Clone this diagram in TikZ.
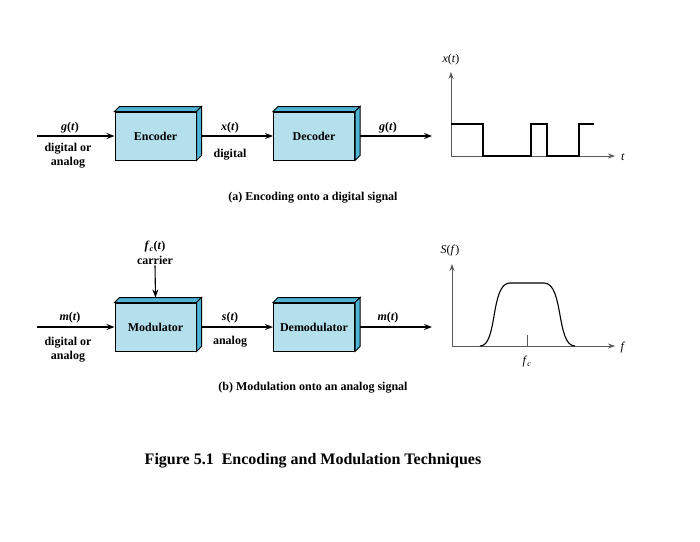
\documentclass[tikz,border=0pt]{standalone}
\usepackage{fontspec}
\setmainfont{Liberation Serif}
\usetikzlibrary{arrows.meta, calc, positioning}
\definecolor{boxfront}{RGB}{180,224,237}
\definecolor{boxside}{RGB}{78,180,214}
\definecolor{axisgray}{RGB}{90,90,90}
\tikzset{
  >={Stealth[length=8pt,width=6pt]},
  block/.style={draw, line width=1pt, fill=boxfront, minimum width=81pt, minimum height=48pt, inner sep=0pt, font=\fontsize{12}{14}\selectfont\bfseries},
  face/.style={draw, line width=1pt, fill=boxside},
  lbl/.style={inner sep=1pt, align=center, font=\fontsize{12}{14}\selectfont\bfseries},
  plbl/.style={inner sep=1pt, font=\fontsize{12}{14}\selectfont},
  wire/.style={line width=1.1pt},
  axis/.style={line width=0.7pt, axisgray, {Stealth[length=7pt,width=5pt]}-{Stealth[length=7pt,width=5pt]}},
}

\begin{document}
\begin{tikzpicture}[x=1pt, y=-1pt]
\useasboundingbox (0,0) rectangle (700,541);

% (a) encoding
\node[block] (enc) at (155.5,136) {Encoder};
\node[block] (dec) at (314,136) {Decoder};
\coordinate (in1) at (37,136);
\coordinate (out1) at (432,136);

% (b) modulation
\node[block] (mod) at (155.5,327) {Modulator};
\node[block] (demod) at (314,327) {Demodulator};
\coordinate (in2) at (37,327);
\coordinate (out2) at (432,327);

\foreach \b in {enc,dec,mod,demod}{
  \draw[face] (\b.north west) -- ++(5,-5) -- ($(\b.north east)+(5,-5)$) -- (\b.north east) -- cycle;
  \draw[face] (\b.north east) -- ++(5,-5) -- ($(\b.south east)+(5,-5)$) -- (\b.south east) -- cycle;
}

\node[lbl] (gin) at (70,128) {\textit{g}(\textit{t})};
\node[lbl] (gintype) at (68,156) {digital or\\analog};
\node[lbl] (xmid) at (230,128) {\textit{x}(\textit{t})};
\node[lbl] (xtype) at (230,155) {digital};
\node[lbl] (gout) at (388,128) {\textit{g}(\textit{t})};
\node[lbl] (capa) at (313,198) {(a) Encoding onto a digital signal};

\node[lbl] (fc) at (155,247) {\textit{f}\textsubscript{\textit{c}}(\textit{t})};
\node[lbl] (carrier) at (155,260) {carrier};
\node[lbl] (min) at (70,318) {\textit{m}(\textit{t})};
\node[lbl] (mintype) at (68,350) {digital or\\analog};
\node[lbl] (smid) at (230,318) {\textit{s}(\textit{t})};
\node[lbl] (stype) at (230,342) {analog};
\node[lbl] (mout) at (388,318) {\textit{m}(\textit{t})};
\node[lbl] (capb) at (313,388) {(b) Modulation onto an analog signal};

\draw[wire]
(in1) edge[->] (enc.west)
([xshift=5pt]enc.east) edge[->] (dec.west)
([xshift=5pt]dec.east) edge[->] (out1)
(in2) edge[->] (mod.west)
([xshift=5pt]mod.east) edge[->] (demod.west)
([xshift=5pt]demod.east) edge[->] (out2)
(carrier.south) edge[->] ([yshift=5pt]mod.north);

% x(t) plot
\coordinate (oa) at (451,156);
\coordinate (ya) at (451,72);
\coordinate (xa) at (615,156);
\draw[axis] (ya) -- (oa) -- (xa);
\node[plbl] (xlab) at (451,60) {\textit{x}(\textit{t})};
\node[plbl] (tlab) at (623,157) {\textit{t}};
\draw[wire] (451,124) -- (483,124) -- (483,156) -- (531,156) -- (531,124) -- (547,124)
  -- (547,156) -- (579,156) -- (579,124) -- (594,124);

% S(f) plot
\coordinate (ob) at (452,346);
\coordinate (yb) at (452,264);
\coordinate (xb) at (615,346);
\draw[axis] (yb) -- (ob) -- (xb);
\node[plbl] (slab) at (450,251) {\textit{S}(\textit{f})};
\node[plbl] (flab) at (623,348) {\textit{f}};
\draw[wire] (480,346) .. controls (498,346) and (490,283) .. (510,283) -- (544,283)
  .. controls (564,283) and (556,346) .. (575,346);
\draw[line width=0.7pt, axisgray] (527,346) -- (527,335);
\node[plbl] (fclab) at (527,362) {\textit{f}\textsubscript{\textit{c}}};

\node[inner sep=0pt, font=\fontsize{16}{18}\selectfont\bfseries] (fig) at (313,461) {Figure 5.1\enspace Encoding and Modulation Techniques};
\end{tikzpicture}
\end{document}
